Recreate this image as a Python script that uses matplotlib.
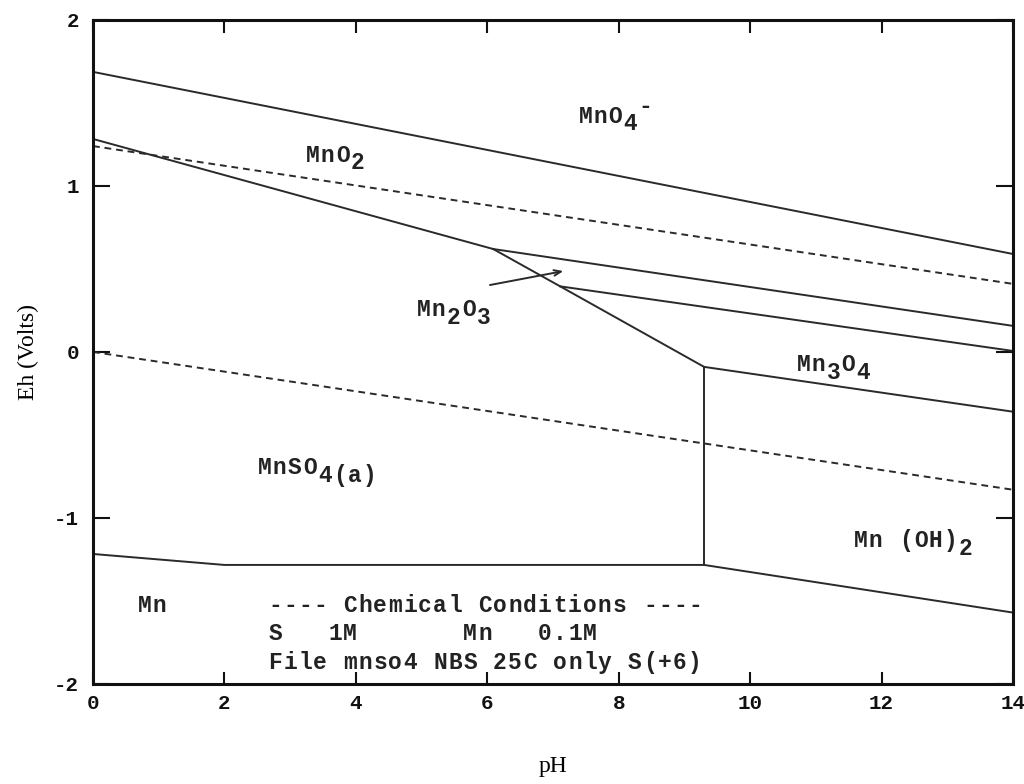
import matplotlib
matplotlib.use("Agg")
import matplotlib.pyplot as plt

plt.rcParams['axes.unicode_minus'] = False

# ---------------------- Boundary data (pH, Eh) ---------------------- #
mno4_mno2_ph = [0, 14]
mno4_mno2_eh = [1.687, 0.59]

mno2_mn_ph = [0, 6.09]
mno2_mn_eh = [1.283, 0.62]

mn2o3_mn_ph = [6.09, 7.11, 9.3]
mn2o3_mn_eh = [0.62, 0.395, -0.09]

mno2_mn2o3_ph = [6.09, 14]
mno2_mn2o3_eh = [0.62, 0.157]

mn2o3_mn3o4_ph = [7.11, 14]
mn2o3_mn3o4_eh = [0.395, 0.006]

mn3o4_oh_ph = [9.3, 14]
mn3o4_oh_eh = [-0.09, -0.36]

mnso4_oh_ph = [9.3, 9.3]
mnso4_oh_eh = [-0.09, -1.283]

metal_ph = [0, 2, 9.3, 14]
metal_eh = [-1.217, -1.283, -1.283, -1.57]

# water stability limits
water_up_ph = [0, 14]
water_up_eh = [1.24, 0.41]
water_lo_ph = [0, 14]
water_lo_eh = [0.0, -0.83]

x_ticks = [0, 2, 4, 6, 8, 10, 12, 14]
y_ticks = [-2, -1, 0, 1, 2]

MONO = 'Liberation Mono'
PITCH = 0.228   # pH units per character cell
SUB = -0.046    # subscript shift in volts
SUP = 0.062     # superscript shift in volts
INK = '#222222'


def mono_text(ax, x, y, parts, size=16.5):
    """Draw fixed-pitch text one character cell at a time."""
    col = 0
    for s, dy in parts:
        for ch in s:
            if ch != ' ':
                ax.text(x + (col + 0.5) * PITCH, y + dy, ch, family=MONO,
                        fontweight='bold', fontsize=size, ha='center',
                        va='baseline', color=INK)
            col += 1


fig = plt.figure(figsize=(10.24, 7.84), dpi=100)
ax = fig.add_axes([0.0908, 0.1276, 0.8984, 0.847])

solid = dict(color='#2a2a2a', linewidth=1.4)
dashed = dict(color='#2a2a2a', linewidth=1.4, linestyle=(0, (3.5, 2.5)))

ax.plot(mno4_mno2_ph, mno4_mno2_eh, **solid)
ax.plot(mno2_mn_ph, mno2_mn_eh, **solid)
ax.plot(mn2o3_mn_ph, mn2o3_mn_eh, **solid)
ax.plot(mno2_mn2o3_ph, mno2_mn2o3_eh, **solid)
ax.plot(mn2o3_mn3o4_ph, mn2o3_mn3o4_eh, **solid)
ax.plot(mn3o4_oh_ph, mn3o4_oh_eh, **solid)
ax.plot(mnso4_oh_ph, mnso4_oh_eh, **solid)
ax.plot(metal_ph, metal_eh, **solid)
ax.plot(water_up_ph, water_up_eh, **dashed)
ax.plot(water_lo_ph, water_lo_eh, **dashed)

# arrow pointing into the thin Mn2O3 wedge
ax.annotate('', xy=(7.2, 0.49), xytext=(6.0, 0.40),
            arrowprops=dict(arrowstyle='->,head_length=0.5,head_width=0.2',
                            color='#2a2a2a', lw=1.4))

# ---------------------- Field labels ---------------------- #
mono_text(ax, 7.38, 1.38, [("MnO", 0), ("4", SUB), ("-", SUP)])
mono_text(ax, 3.23, 1.145, [("MnO", 0), ("2", SUB)])
mono_text(ax, 4.92, 0.217, [("Mn", 0), ("2", SUB), ("O", 0), ("3", SUB)])
mono_text(ax, 10.70, -0.115, [("Mn", 0), ("3", SUB), ("O", 0), ("4", SUB)])
mono_text(ax, 2.50, -0.735, [("MnSO", 0), ("4(a)", SUB)])
mono_text(ax, 11.57, -1.175, [("Mn (OH)", 0), ("2", SUB)])
mono_text(ax, 0.67, -1.566, [("Mn", 0)])

mono_text(ax, 2.66, -1.566, [("---- Chemical Conditions ----", 0)])
mono_text(ax, 2.66, -1.735, [("S   1M       Mn   0.1M", 0)])
mono_text(ax, 2.66, -1.908, [("File mnso4 NBS 25C only S(+6)", 0)])

# ---------------------- Axes styling ---------------------- #
ax.set_xlim(0, 14)
ax.set_ylim(-2, 2)
ax.set_xticks(x_ticks)
ax.set_yticks(y_ticks)
ax.set_xticklabels([str(v) for v in x_ticks], family=MONO, fontweight='bold', fontsize=15)
ax.set_yticklabels([str(v) for v in y_ticks], family=MONO, fontweight='bold', fontsize=15)
ax.tick_params(axis='x', direction='in', length=9, width=1.5, pad=7,
               top=True, colors='#111111')
ax.tick_params(axis='y', direction='in', length=12, width=1.5, pad=10,
               right=True, colors='#111111')
for sp in ax.spines.values():
    sp.set_linewidth(2.2)
    sp.set_color('#111111')

ax.set_xlabel('pH', family='Liberation Serif', fontsize=17, labelpad=31)
ax.set_ylabel('Eh (Volts)', family='Liberation Serif', fontsize=17, labelpad=11)

fig.savefig('out.png', dpi=100)
